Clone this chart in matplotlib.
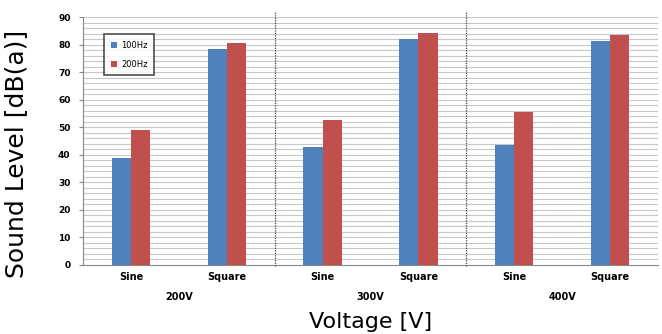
import numpy as np
import matplotlib.pyplot as plt
from matplotlib.transforms import blended_transform_factory

# data
voltages = ['200V', '300V', '400V']
waveforms = ['Sine', 'Square']
level_100hz = [38.9, 78.5, 42.7, 82.0, 43.6, 81.5]
level_200hz = [49.2, 80.8, 52.6, 84.2, 55.5, 83.7]
series_names = ['100Hz', '200Hz']

blue = '#4F81BD'
red = '#C0504D'

fig = plt.figure(figsize=(6.62, 3.34), dpi=100)
ax = fig.add_axes([0.1254, 0.2066, 0.8686, 0.7416])

x = np.arange(len(level_100hz))
w = 0.2
ax.bar(x - w / 2, level_100hz, w, color=blue, label=series_names[0], zorder=3)
ax.bar(x + w / 2, level_200hz, w, color=red, label=series_names[1], zorder=3)

ax.set_xlim(-0.5, len(x) - 0.5)
ax.set_ylim(0, 90)

# light horizontal grid every 2 units
for g in np.arange(2, 91, 2):
    ax.axhline(g, color='#C8C8C8', lw=0.8, zorder=1)

ax.set_yticks(np.arange(0, 91, 10))
ax.set_yticklabels([str(v) for v in range(0, 91, 10)], fontsize=6.5, fontweight='bold')
ax.set_xticks(x)
ax.set_xticklabels(waveforms * len(voltages), fontsize=7, fontweight='bold')
ax.tick_params(axis='x', length=0, pad=5)
ax.tick_params(axis='y', length=3, color='#888888', pad=6)

for s in ['top', 'right']:
    ax.spines[s].set_visible(False)
ax.spines['left'].set_color('#888888')
ax.spines['bottom'].set_color('#888888')

# dotted separators between voltage groups
for b in [1.5, 3.5]:
    ax.plot([b, b], [-0.5, 92], color='#444444', lw=0.9, ls=(0, (1, 1)),
            clip_on=False, zorder=4)

trans = blended_transform_factory(ax.transData, ax.transAxes)
for i, v in enumerate(voltages):
    ax.text(2 * i + 0.5, -0.13, v, transform=trans, ha='center', va='center',
            fontsize=7, fontweight='bold')

leg = ax.legend(loc='upper left', bbox_to_anchor=(0.03, 0.95), fontsize=6,
                frameon=True, fancybox=False, edgecolor='#222222',
                handlelength=0.7, handleheight=0.7, labelspacing=1.2,
                borderpad=0.8, handletextpad=0.5)
leg.get_frame().set_linewidth(1.2)

fig.text(0.025, 0.54, 'Sound Level [dB(a)]', rotation=90, ha='center', va='center',
         fontsize=18)
fig.text(0.56, 0.035, 'Voltage [V]', ha='center', va='center', fontsize=16)

fig.savefig('out.png', dpi=100)
